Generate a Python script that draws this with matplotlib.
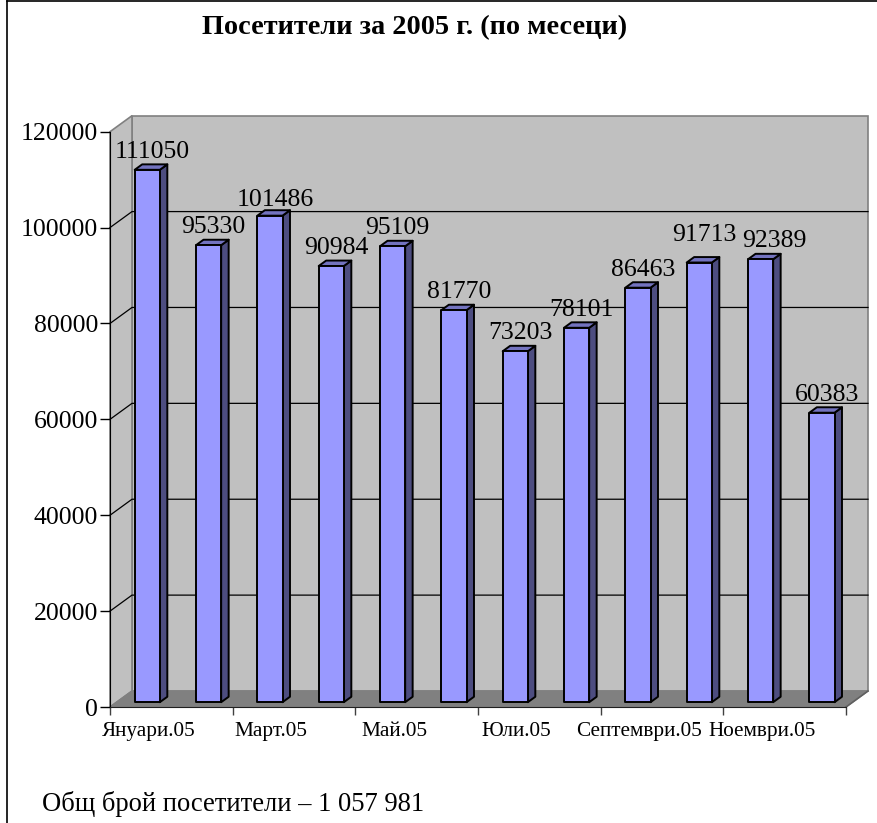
import matplotlib
matplotlib.use("Agg")
import matplotlib.pyplot as plt
from matplotlib.patches import Polygon
from matplotlib.lines import Line2D

plt.rcParams['font.family'] = ['Liberation Serif', 'DejaVu Serif']

months = ["Януари.05", "Февруари.05", "Март.05", "Април.05", "Май.05", "Юни.05",
          "Юли.05", "Август.05", "Септември.05", "Октомври.05", "Ноември.05", "Декември.05"]
visitors = [111050, 95330, 101486, 90984, 95109, 81770, 73203, 78101, 86463, 91713, 92389, 60383]
yticks = [0, 20000, 40000, 60000, 80000, 100000, 120000]
title = "Посетители за 2005 г. (по месеци)"
footer = "Общ брой посетители – 1 057 981"

W, H = 878, 823
fig = plt.figure(figsize=(W / 100, H / 100), dpi=100)
fig.patch.set_facecolor("white")

# front plane of the 3D box
ax_l, ax_r, ax_b, ax_t = 110, 846, 707, 131.7
ax = fig.add_axes([ax_l / W, 1 - ax_b / H, (ax_r - ax_l) / W, (ax_b - ax_t) / H])
n = len(visitors)
ymax = 120000
ax.set_xlim(0, n)
ax.set_ylim(0, ymax)
ax.set_facecolor("none")

# depth offset in data units (22 px right, 16 px up)
DX = 22 / ((ax_r - ax_l) / n)
DY = 16 / (ax_b - ax_t) * ymax

wall = "#C0C0C0"
floor = "#808080"
edge = "#808080"

# back wall
ax.add_patch(Polygon([(DX, DY), (n + DX, DY), (n + DX, ymax + DY), (DX, ymax + DY)],
                     closed=True, facecolor=wall, edgecolor=edge, lw=1.2, clip_on=False, zorder=0))
# left wall
ax.add_patch(Polygon([(0, 0), (DX, DY), (DX, ymax + DY), (0, ymax)],
                     closed=True, facecolor=wall, edgecolor=edge, lw=1.2, clip_on=False, zorder=0))
# floor
ax.add_patch(Polygon([(0, 0), (n, 0), (n + DX, DY), (DX, DY)],
                     closed=True, facecolor=floor, edgecolor=edge, lw=1.0, clip_on=False, zorder=0.5))

# gridlines on back and left walls
for v in yticks[1:-1]:
    ax.add_line(Line2D([0, DX, n + DX], [v, v + DY, v + DY], color="black", lw=0.9,
                       clip_on=False, zorder=0.8))
# right-bottom diagonal
ax.add_line(Line2D([n, n + DX], [0, DY], color="#606060", lw=1.2, clip_on=False, zorder=0.8))

# label nudges (pixels) where the original avoided overlapping labels
label_nudge = {9: (0, 10), 10: (9, 0), 2: (0, -2)}

# bars
f0, f1 = 0.30, 0.64
bw = 0.41
front_c = "#9999FF"
side_c = "#4D4D80"
top_c = "#7373BF"
for i, v in enumerate(visitors):
    xc = i + 0.5 + f0 * DX
    x0, x1 = xc - bw / 2, xc + bw / 2
    yb = f0 * DY
    yt = v + f0 * DY
    ddx = (f1 - f0) * DX
    ddy = (f1 - f0) * DY
    # side
    ax.add_patch(Polygon([(x1, yb), (x1 + ddx, yb + ddy), (x1 + ddx, yt + ddy), (x1, yt)],
                         closed=True, facecolor=side_c, edgecolor="black", lw=1.4,
                         clip_on=False, zorder=2, joinstyle="round"))
    # top
    ax.add_patch(Polygon([(x0, yt), (x1, yt), (x1 + ddx, yt + ddy), (x0 + ddx, yt + ddy)],
                         closed=True, facecolor=top_c, edgecolor="black", lw=1.4,
                         clip_on=False, zorder=2, joinstyle="round"))
    # front
    ax.add_patch(Polygon([(x0, yb), (x1, yb), (x1, yt), (x0, yt)],
                         closed=True, facecolor=front_c, edgecolor="black", lw=1.4,
                         clip_on=False, zorder=3, joinstyle="round"))
    nx, ny = label_nudge.get(i, (0, 0))
    ax.annotate(str(v), xy=(xc + 0.08, yt), xytext=(nx * 0.72, 8.5 + ny * 0.72),
                textcoords="offset points",
                ha="center", va="baseline", fontsize=18.5, color="black",
                annotation_clip=False, zorder=4)

# axes / ticks
for s in ["top", "right"]:
    ax.spines[s].set_visible(False)
ax.spines["left"].set_color("black")
ax.spines["bottom"].set_color("#202020")
ax.spines["left"].set_zorder(5)
ax.spines["bottom"].set_zorder(5)
ax.set_yticks(yticks)
ax.set_yticklabels([str(t) for t in yticks])
ax.tick_params(axis="y", direction="out", length=7, width=1, pad=1.5, labelsize=18.5, colors="black")

ax.set_xticks(range(0, n + 1, 2))
ax.set_xticklabels([""] * len(range(0, n + 1, 2)))
ax.tick_params(axis="x", which="major", direction="out", length=6, width=1, color="#404040")
lab_pos = [i + 0.5 + 0.13 for i in range(0, n, 2)]
ax.set_xticks(lab_pos, minor=True)
ax.set_xticklabels([months[i] for i in range(0, n, 2)], minor=True)
ax.tick_params(axis="x", which="minor", length=0, pad=11, labelsize=15.3)

# title and footer
fig.text(415 / W, 1 - 28 / H, title, ha="center", va="center", fontsize=20.3, fontweight="bold")
fig.text(42 / W, 1 - 811 / H, footer, ha="left", va="baseline", fontsize=19.2)

# outer border (top, left)
fig.add_artist(Line2D([7 / W, 7 / W], [0, 1 - 1 / H], color="black", lw=1.2, transform=fig.transFigure))
fig.add_artist(Line2D([7 / W, 1.0], [1 - 1 / H, 1 - 1 / H], color="black", lw=1.2, transform=fig.transFigure))

fig.savefig("out.png", dpi=100)
